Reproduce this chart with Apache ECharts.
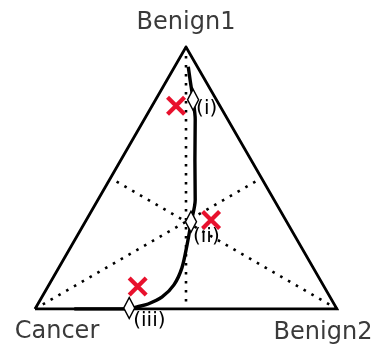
<!DOCTYPE html>
<html>
<head>
<meta charset="utf-8">
<script src="https://cdn.jsdelivr.net/npm/echarts@6/dist/echarts.min.js"></script>
<style>
  html, body { margin: 0; padding: 0; background: #fff; }
  #chart { width: 379px; height: 349px; }
</style>
</head>
<body>
<div id="chart"></div>
<script>
// Ternary compositions are written as [Cancer, Benign1, Benign2] fractions.
const vertexNames = ['Cancer', 'Benign1', 'Benign2'];
const vertexComp = [[1, 0, 0], [0, 1, 0], [0, 0, 1]];

// Trajectory of the fitted composition, from the Benign1 corner down to the Cancer edge
const pathComp = [
  [0.030, 0.925, 0.045],
  [0.049, 0.875, 0.076],
  [0.077, 0.799, 0.124],
  [0.108, 0.723, 0.169],
  [0.186, 0.569, 0.245],
  [0.261, 0.417, 0.322],
  [0.316, 0.333, 0.351],
  [0.374, 0.245, 0.381],
  [0.435, 0.157, 0.408],
  [0.494, 0.092, 0.414],
  [0.556, 0.046, 0.398],
  [0.616, 0.019, 0.365],
  [0.658, 0.008, 0.334],
  [0.687, 0.000, 0.313],
  [0.870, 0.000, 0.130]
];

// Stages marked along the trajectory
const stageLabels = ['(i)', '(ii)', '(iii)'];
const stageComp = [
  [0.077, 0.799, 0.124],
  [0.317, 0.333, 0.350],
  [0.686, 0.004, 0.310]
];

// Observed samples
const observedComp = [
  [0.145, 0.776, 0.079],
  [0.247, 0.340, 0.413],
  [0.617, 0.086, 0.297]
];

const H = Math.sqrt(3) / 2;
function toXY(c) {
  const s = c[0] + c[1] + c[2];
  const b1 = c[1] / s, b2 = c[2] / s;
  return [b2 + 0.5 * b1, b1 * H];
}

const vertices = vertexComp.map(toXY);
const triangle = [vertices[0], vertices[2], vertices[1], vertices[0]];
// Medians: each corner to the midpoint of the opposite side
const medians = vertexComp.map((v, i) => {
  const mid = vertexComp.filter((_, j) => j !== i)
    .reduce((a, b) => [a[0] + b[0] / 2, a[1] + b[1] / 2, a[2] + b[2] / 2], [0, 0, 0]);
  return [toXY(v), toXY(mid)];
});

const crossPath = 'path://M0,1.5L1.5,0L10,8.5L8.5,10Z M8.5,0L10,1.5L1.5,10L0,8.5Z';

const labelFont = 'DejaVu Sans';
const vertexLabelOffset = [[22, 23], [0, -24], [-14, 24]];
const stageLabelOffset = [[3, 9], [2, 15], [4, 13]];

const series = [];
medians.forEach(m => {
  series.push({
    type: 'line', data: m, symbol: 'none', silent: true, z: 1,
    lineStyle: { color: '#000', width: 2.6, type: [2.6, 6.4], cap: 'butt' }
  });
});
series.push({
  type: 'line', data: triangle, symbol: 'none', silent: true, z: 2,
  lineStyle: { color: '#000', width: 2.8, join: 'miter' }
});
series.push({
  type: 'line', data: pathComp.map(toXY), symbol: 'none', smooth: 0.3, silent: true, z: 3,
  lineStyle: { color: '#000', width: 3.4 }
});
series.push({
  type: 'scatter', z: 4, symbol: 'diamond', symbolSize: [11, 21], silent: true,
  itemStyle: { color: '#fff', borderColor: '#000', borderWidth: 1.6, opacity: 1 },
  data: stageComp.map((c, i) => ({
    value: toXY(c),
    label: {
      show: true, formatter: stageLabels[i], position: 'inside',
      align: 'left', verticalAlign: 'middle', offset: stageLabelOffset[i],
      fontFamily: labelFont, fontSize: 20, color: '#000'
    }
  }))
});
series.push({
  type: 'scatter', z: 5, symbol: crossPath, symbolSize: 20, silent: true,
  itemStyle: { color: '#e8112d', opacity: 1 },
  data: observedComp.map(toXY)
});
series.push({
  type: 'scatter', z: 6, symbol: 'circle', symbolSize: 1, silent: true,
  itemStyle: { color: 'rgba(0,0,0,0)', opacity: 1 },
  data: vertices.map((v, i) => ({
    value: v,
    label: {
      show: true, formatter: vertexNames[i], position: 'inside',
      align: 'center', verticalAlign: 'middle', offset: vertexLabelOffset[i],
      fontFamily: labelFont, fontSize: 24, color: '#3a3a3a'
    }
  }))
});

const chart = echarts.init(document.getElementById('chart'), null, { renderer: 'canvas' });
chart.setOption({
  animation: false,
  backgroundColor: '#fff',
  grid: { left: 35, top: 47, width: 302, height: 262 },
  xAxis: { type: 'value', min: 0, max: 1, show: false },
  yAxis: { type: 'value', min: 0, max: H, show: false },
  series: series
});
</script>
</body>
</html>
